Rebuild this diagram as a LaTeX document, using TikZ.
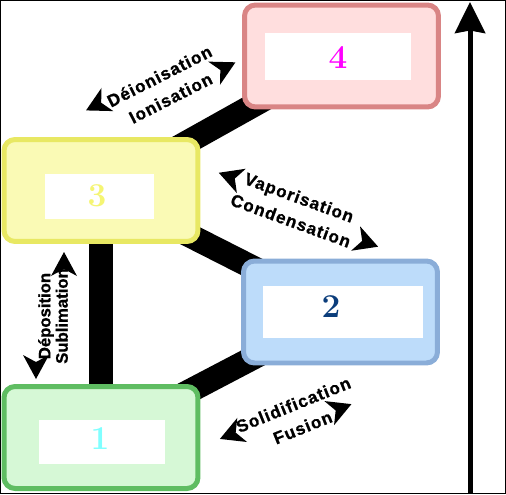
\documentclass[tikz,border=0pt]{standalone}
\usepackage{fontspec}
\setsansfont{Liberation Sans}
\usetikzlibrary{arrows.meta,backgrounds}
\definecolor{plasmafill}{HTML}{FFDEDE}
\definecolor{plasmaline}{HTML}{D98585}
\definecolor{plasmanum}{HTML}{FF00FF}
\definecolor{gasfill}{HTML}{FAFAB5}
\definecolor{gasline}{HTML}{E8E863}
\definecolor{gasnum}{HTML}{F5F573}
\definecolor{liqfill}{HTML}{BDDCFA}
\definecolor{liqline}{HTML}{8AADD8}
\definecolor{liqnum}{HTML}{0B3D7B}
\definecolor{solfill}{HTML}{D6F8D6}
\definecolor{solline}{HTML}{5FBD62}
\definecolor{solnum}{HTML}{80FFFF}
\begin{document}
\begin{tikzpicture}[x=0.02cm,y=-0.02cm,
    box/.style={draw,line width=0.1cm,rounded corners=0.22cm,minimum width=3.88cm,minimum height=2.04cm},
    tag/.style={fill=white,inner sep=0pt},
    num/.style={font=\fontsize{19}{19}\selectfont\bfseries,inner sep=0pt},
    lbl/.style={font=\sffamily\bfseries\fontsize{9.8}{14}\selectfont\addfontfeatures{LetterSpace=6,FakeBold=1},align=center,inner sep=0pt},
    chev/.pic={\fill (0,0)--(-24,-13)--(-17,0)--(-24,13)--cycle;},
    bar/.style={line width=0.48cm}]
    \useasboundingbox (0,0) rectangle (506,494);
    \draw[line width=0.02cm] (0.5,0.5) rectangle (505.5,493.5);
    \node[box,draw=plasmaline,fill=plasmafill] (P) at (341.5,56) {};
    \node[box,draw=gasline,fill=gasfill] (G) at (101,190.5) {};
    \node[box,draw=liqline,fill=liqfill] (L) at (340.5,312) {};
    \node[box,draw=solline,fill=solfill] (S) at (101,437.5) {};
    \begin{scope}[on background layer]
    \draw[bar] (G.center)--(P.center);
    \draw[bar] (G.center)--(L.center);
    \draw[bar] (L.center)--(S.center);
    \draw[bar] (G.center)--(S.center);
    \end{scope}
    \node[tag,minimum width=2.92cm,minimum height=0.94cm] (Pt) at (338,56.5) {};
    \node[tag,minimum width=2.18cm,minimum height=0.9cm] (Gt) at (99.5,196.5) {};
    \node[tag,minimum width=3.2cm,minimum height=1.04cm] (Lt) at (343,312) {};
    \node[tag,minimum width=2.52cm,minimum height=0.88cm] (St) at (102,442) {};
    \node[num,text=plasmanum] (P4) at (338,58) {4};
    \node[num,text=gasnum] (G3) at (97,196) {3};
    \node[num,text=liqnum] (L2) at (331,307) {2};
    \node[num,text=solnum] (S1) at (100,439) {1};
    \coordinate (up0) at (470,494);
    \coordinate (up1) at (470,2);
    \draw[line width=0.1cm,-{Stealth[length=0.62cm,width=0.6cm,inset=0.05cm]}] (up0)--(up1);
     \begin{scope}[shift={(165,87)},rotate=27,transform shape]
    \node[lbl] (ion) at (0,0) {Déionisation\\Ionisation};
    \pic[rotate=180] at (-81,-15) {chev};
    \pic at (74,10) {chev};
     \end{scope}
     \begin{scope}[shift={(295,209)},rotate=-20,transform shape]
    \node[lbl] (vap) at (0,0) {Vaporisation\\Condensation};
    \pic[rotate=180] at (-84,-8) {chev};
    \pic at (91,7) {chev};
     \end{scope}
     \begin{scope}[shift={(53,316)},rotate=90,transform shape]
    \node[lbl,font=\sffamily\bfseries\fontsize{9.5}{8.5}\selectfont\addfontfeatures{FakeBold=1}] (sub) at (0,0) {Déposition\\Sublimation};
    \pic[rotate=180] at (-63,-17) {chev};
    \pic at (64,11) {chev};
     \end{scope}
     \begin{scope}[shift={(298,416)},rotate=22,transform shape]
    \node[lbl] (fus) at (0,0) {Solidification\\Fusion};
    \pic[rotate=180] at (-81,-8) {chev};
    \pic at (54,9) {chev};
     \end{scope}
\end{tikzpicture}
\end{document}
